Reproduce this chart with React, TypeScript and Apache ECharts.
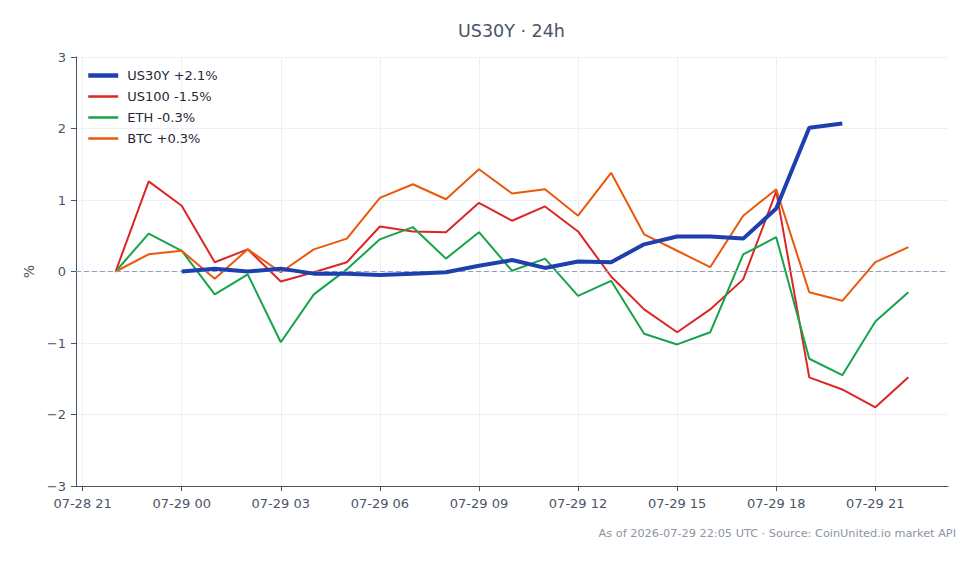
import React, { useEffect, useRef } from "react";
import * as echarts from "echarts";

// Hourly sample times (UTC)
const times: string[] = [
  "2026-07-28T22:00:00Z", "2026-07-28T23:00:00Z",
  "2026-07-29T00:00:00Z", "2026-07-29T01:00:00Z", "2026-07-29T02:00:00Z",
  "2026-07-29T03:00:00Z", "2026-07-29T04:00:00Z", "2026-07-29T05:00:00Z",
  "2026-07-29T06:00:00Z", "2026-07-29T07:00:00Z", "2026-07-29T08:00:00Z",
  "2026-07-29T09:00:00Z", "2026-07-29T10:00:00Z", "2026-07-29T11:00:00Z",
  "2026-07-29T12:00:00Z", "2026-07-29T13:00:00Z", "2026-07-29T14:00:00Z",
  "2026-07-29T15:00:00Z", "2026-07-29T16:00:00Z", "2026-07-29T17:00:00Z",
  "2026-07-29T18:00:00Z", "2026-07-29T19:00:00Z", "2026-07-29T20:00:00Z",
  "2026-07-29T21:00:00Z", "2026-07-29T22:00:00Z",
];

// Percent change since the start of the window
const us30y: (number | null)[] = [
  null, null,
  0.0, 0.04, 0.0, 0.04, -0.03, -0.03, -0.05, -0.03, -0.01, 0.08, 0.16,
  0.05, 0.14, 0.13, 0.38, 0.49, 0.49, 0.46, 0.88, 2.01, 2.07,
  null, null,
];
const us100: number[] = [
  0.0, 1.26, 0.92, 0.13, 0.31, -0.14, -0.01, 0.13, 0.63, 0.56, 0.55, 0.96,
  0.71, 0.91, 0.56, -0.07, -0.53, -0.85, -0.53, -0.11, 1.12, -1.48, -1.65,
  -1.9, -1.48,
];
const eth: number[] = [
  0.0, 0.53, 0.29, -0.32, -0.04, -0.99, -0.32, 0.03, 0.45, 0.62, 0.18, 0.55,
  0.01, 0.18, -0.34, -0.13, -0.87, -1.02, -0.85, 0.24, 0.48, -1.22, -1.45,
  -0.7, -0.29,
];
const btc: number[] = [
  0.0, 0.24, 0.29, -0.1, 0.31, -0.01, 0.31, 0.46, 1.03, 1.22, 1.01, 1.43,
  1.09, 1.15, 0.78, 1.38, 0.52, 0.29, 0.06, 0.78, 1.15, -0.29, -0.41, 0.13,
  0.34,
];

const seriesNames = ["US30Y +2.1%", "US100 -1.5%", "ETH -0.3%", "BTC +0.3%"];
const seriesColors = ["#1e40af", "#dc2626", "#16a34a", "#ea580c"];
const seriesWidths = [4, 2, 2, 2];

const xTicks: string[] = [
  "2026-07-28T21:00:00Z", "2026-07-29T00:00:00Z", "2026-07-29T03:00:00Z",
  "2026-07-29T06:00:00Z", "2026-07-29T09:00:00Z", "2026-07-29T12:00:00Z",
  "2026-07-29T15:00:00Z", "2026-07-29T18:00:00Z", "2026-07-29T21:00:00Z",
];
const xMin = "2026-07-28T20:48:00Z";
const xMax = "2026-07-29T23:12:00Z";

const footnote = "As of 2026-07-29 22:05 UTC · Source: CoinUnited.io market API";

const FONT = "DejaVu Sans";
const pad = (n: number) => String(n).padStart(2, "0");
const fmtTime = (v: number) => {
  const d = new Date(v);
  return `${pad(d.getUTCMonth() + 1)}-${pad(d.getUTCDate())} ${pad(d.getUTCHours())}`;
};
const ts = (s: string) => Date.parse(s);

export default function App() {
  const ref = useRef<HTMLDivElement>(null);

  useEffect(() => {
    if (!ref.current) return;
    const chart = echarts.init(ref.current, undefined, { renderer: "svg" });
    const pair = (vals: (number | null)[]) =>
      times.map((t, i) => [ts(t), vals[i]]);
    const values = [us30y, us100, eth, btc];
    const tickMs = xTicks.map(ts);

    chart.setOption({
      animation: false,
      backgroundColor: "#ffffff",
      textStyle: { fontFamily: FONT },
      title: {
        text: "US30Y · 24h",
        left: 453,
        top: 17,
        textStyle: { fontFamily: FONT, fontSize: 17.5, fontWeight: "normal", color: "#4a5568" },
      },
      legend: {
        orient: "vertical",
        left: 81,
        top: 64,
        itemWidth: 30,
        itemHeight: 12,
        itemGap: 8,
        data: seriesNames.map((name, i) => ({
          name,
          lineStyle: { width: i === 0 ? 4.5 : 2.5 },
        })),
        itemStyle: { opacity: 0 },
        textStyle: { fontFamily: FONT, fontSize: 13, color: "#1f2937", padding: [0, 0, 0, 4] },
      },
      graphic: [
        {
          type: "text",
          right: 24,
          top: 528,
          style: { text: footnote, fontFamily: FONT, fontSize: 11.3, fill: "#8b95a5" },
        },
      ],
      grid: { left: 76, right: 32, top: 57, bottom: 78 },
      xAxis: {
        type: "value",
        min: ts(xMin),
        max: ts(xMax),
        axisLine: { onZero: false, lineStyle: { color: "#4a5568", width: 1 } },
        axisTick: { customValues: tickMs, length: 5, lineStyle: { color: "#4a5568" } },
        axisLabel: {
          customValues: tickMs,
          formatter: (v: number) => fmtTime(v),
          fontFamily: FONT,
          fontSize: 13,
          color: "#4a5568",
          margin: 11,
        },
        splitLine: { show: true, lineStyle: { color: "#eceff3" } },
      },
      yAxis: {
        type: "value",
        min: -3,
        max: 3,
        interval: 1,
        name: "%",
        nameLocation: "middle",
        nameGap: 40,
        nameTextStyle: { fontFamily: FONT, fontSize: 14, color: "#4a5568" },
        axisLine: { show: true, lineStyle: { color: "#4a5568", width: 1 } },
        axisTick: { show: true, length: 5, lineStyle: { color: "#4a5568" } },
        axisLabel: {
          fontFamily: FONT,
          fontSize: 13,
          color: "#4a5568",
          margin: 10,
          formatter: (v: number) => (v < 0 ? "\u2212" + Math.abs(v) : String(v)),
        },
        splitLine: { show: true, lineStyle: { color: "#eceff3" } },
      },
      series: seriesNames.map((name, i) => ({
        name,
        type: "line",
        data: pair(values[i]),
        symbol: "none",
        connectNulls: false,
        z: i === 0 ? 5 : 3,
        color: seriesColors[i],
        lineStyle: { width: seriesWidths[i], color: seriesColors[i] },
        markLine:
          i === 3
            ? {
                silent: true,
                symbol: "none",
                label: { show: false },
                lineStyle: { color: "#8fa0bf", type: [5, 3], width: 1 },
                data: [{ yAxis: 0 }],
              }
            : undefined,
      })),
    });

    return () => chart.dispose();
  }, []);

  return (
    <div
      ref={ref}
      style={{ position: "fixed", left: 0, top: 0, width: 980, height: 564 }}
    />
  );
}
